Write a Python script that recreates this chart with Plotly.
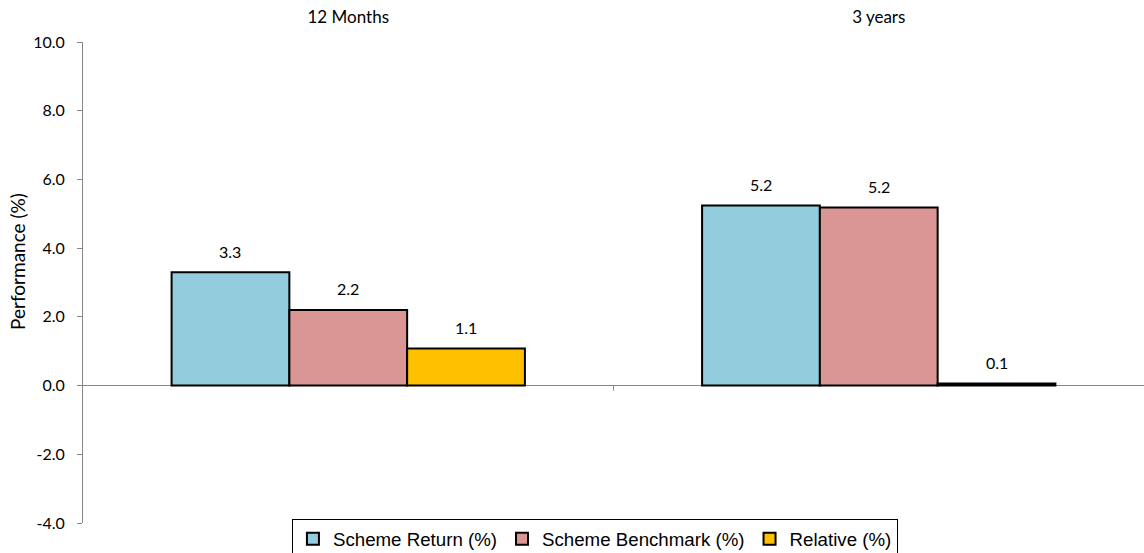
import plotly.graph_objects as go

categories = ["12 Months", "3 years"]
scheme_return = [3.3, 5.24]
scheme_benchmark = [2.2, 5.18]
relative = [1.08, 0.06]
series_names = ["Scheme Return (%)", "Scheme Benchmark (%)", "Relative (%)"]
colors = ["#93CDDD", "#D99694", "#FFC000"]
y_ticks = [-4, -2, 0, 2, 4, 6, 8, 10]

FONT = "Lato, Open Sans, sans-serif"
BARGAP = 0.334

fig = go.Figure()
all_series = [scheme_return, scheme_benchmark, relative]
for name, vals, col in zip(series_names, all_series, colors):
    fig.add_trace(go.Bar(
        name=name, x=[0, 1], y=vals,
        marker=dict(color=col, line=dict(color="black", width=2)),
        cliponaxis=False,
    ))

# data labels placed above each bar of the grouped layout
bw = (1 - BARGAP) / len(all_series)
annotations = []
for i, vals in enumerate(all_series):
    for c, v in enumerate(vals):
        annotations.append(dict(
            text=f"{v:.1f}", xref="x", yref="y", x=c + (i - 1) * bw, y=v,
            yshift=21, xanchor="center", yanchor="middle", showarrow=False,
            font=dict(family=FONT, size=16, color="black")))
annotations.append(dict(text="Performance (%)", textangle=-90, xref="paper", yref="paper",
                        x=-0.0612, y=0.543, xanchor="center", yanchor="middle", showarrow=False,
                        font=dict(family=FONT, size=19, color="black")))

fig.update_layout(
    width=1144, height=553,
    margin=dict(l=83, r=0, t=42, b=30, autoexpand=False),
    paper_bgcolor="white", plot_bgcolor="white",
    barmode="group", bargap=BARGAP, bargroupgap=0,
    showlegend=True,
    legend=dict(orientation="h", x=0.4825, xanchor="center", y=0.008, yanchor="top",
                bordercolor="black", borderwidth=1, bgcolor="white",
                font=dict(family="Liberation Sans, Arial, sans-serif", size=18.7, color="black"),
                itemwidth=30, tracegroupgap=0),
    font=dict(family=FONT, size=16, color="black"),
    annotations=annotations,
)
fig.update_xaxes(
    tickmode="array", tickvals=[0, 1], ticktext=categories, side="top",
    range=[-0.5, 1.5], showline=False, showgrid=False, ticks="",
    tickfont=dict(family=FONT, size=17, color="black"),
    ticklabelstandoff=15, automargin=False, fixedrange=True,
)
fig.update_yaxes(
    range=[-4, 10], tickvals=y_ticks, ticktext=[f"{v:.1f}" for v in y_ticks],
    showline=True, linecolor="#868686", linewidth=1, ticks="outside", ticklen=5,
    tickcolor="#868686", showgrid=False, zeroline=True, zerolinecolor="#868686",
    zerolinewidth=1, automargin=False, ticklabelstandoff=9, fixedrange=True,
    tickfont=dict(family=FONT, size=16, color="black"),
)
# category divider tick on the zero axis
fig.add_shape(type="line", xref="x", yref="y", x0=0.5, x1=0.5, y0=0, y1=-0.15,
              line=dict(color="#868686", width=1))

fig.write_html("out.html", config={"displayModeBar": False},
               post_script="document.body.style.margin='0';document.body.style.overflow='hidden';")
